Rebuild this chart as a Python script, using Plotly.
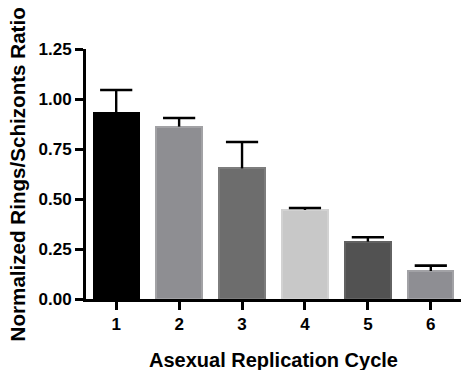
import plotly.graph_objects as go

cycles = ["1", "2", "3", "4", "5", "6"]
ratio = [0.928, 0.862, 0.653, 0.445, 0.287, 0.140]
err_up = [0.117, 0.043, 0.132, 0.010, 0.022, 0.027]
bar_colors = ["#000000", "#8e8e92", "#6d6d6d", "#c8c8c8", "#525252", "#8e8e93"]
edge_colors = ["#000000", "#a2a2a5", "#7d7d7d", "#d2d2d2", "#626262", "#a2a2a6"]

y_ticks = [0, 0.25, 0.5, 0.75, 1.0, 1.25]
y_tick_text = ["0.00", "0.25", "0.50", "0.75", "1.00", "1.25"]

FONT = "Arial, Liberation Sans, sans-serif"

xs = [int(c) for c in cycles]
tops = [r + e for r, e in zip(ratio, err_up)]

fig = go.Figure()
fig.add_trace(
    go.Bar(
        x=xs,
        y=ratio,
        width=0.72,
        marker=dict(color=bar_colors, line=dict(color=edge_colors, width=2)),
        hoverinfo="skip",
    )
)
# upper-only error bars: stem via error_y (no caps), cap via line marker
fig.add_trace(
    go.Scatter(
        x=xs,
        y=tops,
        mode="markers",
        marker=dict(symbol="line-ew", size=23, line=dict(color="black", width=2.6)),
        error_y=dict(
            type="data",
            symmetric=False,
            array=[0] * len(err_up),
            arrayminus=err_up,
            color="black",
            thickness=2.4,
            width=0,
        ),
        hoverinfo="skip",
    )
)

fig.update_layout(
    width=461,
    height=370,
    margin=dict(l=86, r=0, t=49, b=71),
    paper_bgcolor="white",
    plot_bgcolor="white",
    showlegend=False,
    font=dict(family=FONT, color="black"),
    bargap=0,
    annotations=[
        dict(
            text="<b>Asexual Replication Cycle</b>",
            xref="paper", yref="paper",
            x=0.5, y=-0.242,
            xanchor="center", yanchor="middle",
            showarrow=False,
            font=dict(family=FONT, size=20, color="black"),
        ),
        dict(
            text="<b>Normalized Rings/Schizonts Ratio</b>",
            xref="paper", yref="paper",
            x=-0.183, y=0.5,
            xanchor="center", yanchor="middle",
            textangle=-90,
            showarrow=False,
            font=dict(family=FONT, size=20.6, color="black"),
        ),
    ],
)

fig.update_xaxes(
    automargin=False,
    range=[0.52, 6.48],
    tickmode="array",
    tickvals=xs,
    ticktext=cycles,
    showline=True,
    linecolor="black",
    linewidth=3,
    ticks="outside",
    ticklen=8,
    tickwidth=3,
    tickcolor="black",
    showgrid=False,
    zeroline=False,
    tickfont=dict(family=FONT, size=17, color="black", weight="bold"),
)

fig.update_yaxes(
    automargin=False,
    range=[0, 1.25],
    tickmode="array",
    tickvals=y_ticks,
    ticktext=y_tick_text,
    showline=True,
    linecolor="black",
    linewidth=3,
    ticks="outside",
    ticklen=8,
    tickwidth=3,
    tickcolor="black",
    showgrid=False,
    zeroline=False,
    tickfont=dict(family=FONT, size=17, color="black", weight="bold"),
)

fig.write_html(
    "out.html",
    config={"displayModeBar": False},
    post_script="document.body.style.margin='0';document.body.style.overflow='hidden';",
)
